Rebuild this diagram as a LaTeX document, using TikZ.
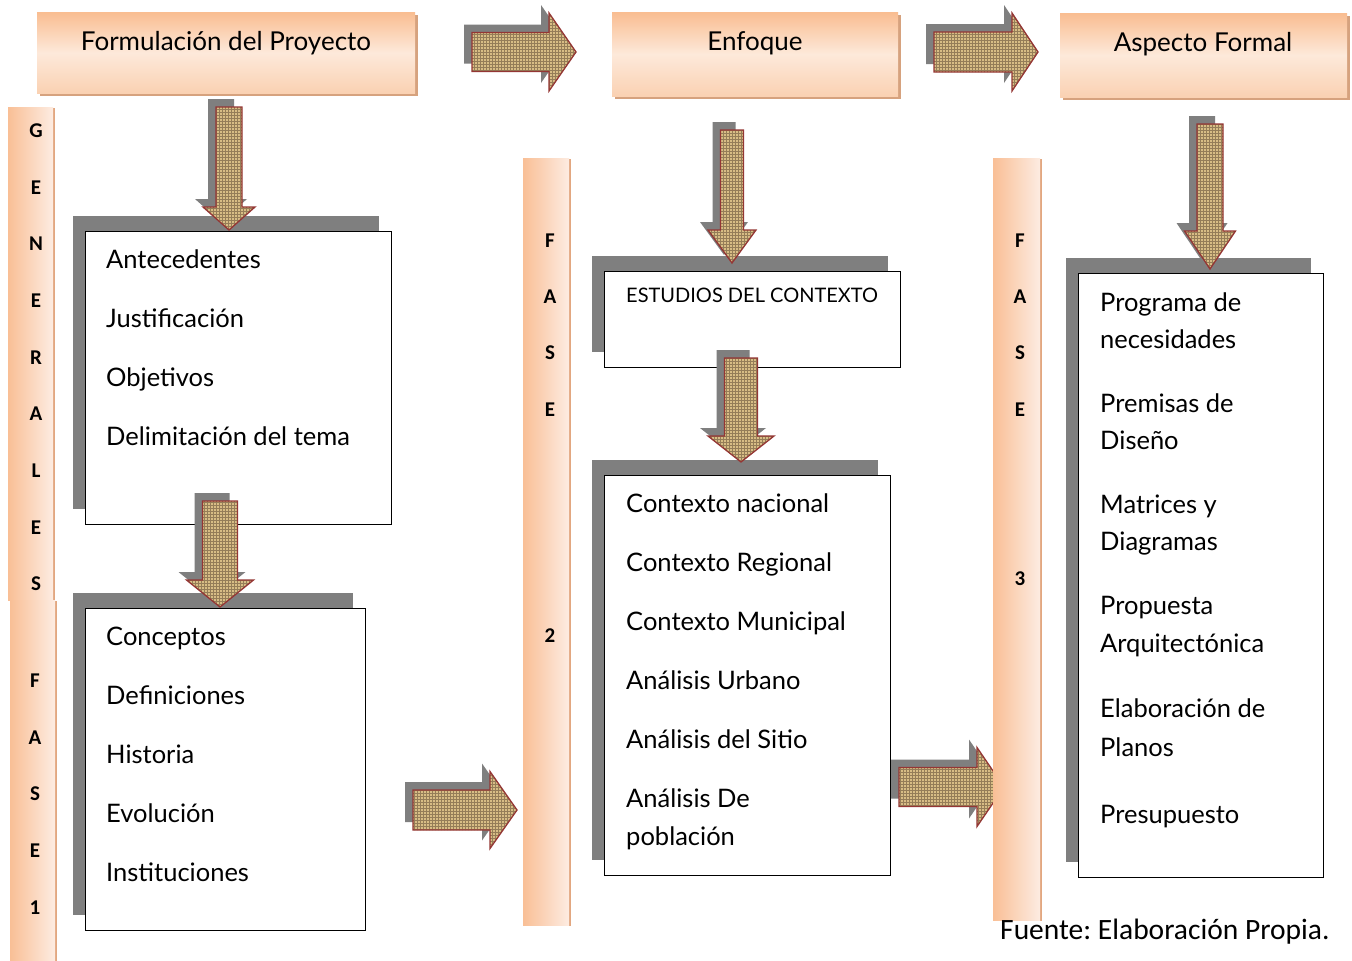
\documentclass[tikz,border=0pt]{standalone}
\usepackage{fontspec}
\setmainfont{Lato}
\newfontfamily\fuentefont{Carlito}
\usetikzlibrary{patterns}
\frenchspacing
\definecolor{hdrtop}{HTML}{F9BD91}
\definecolor{hdrmid}{HTML}{FDE9DA}
\definecolor{hdrbot}{HTML}{FAD1B2}
\definecolor{hdrshadow}{HTML}{D6A27E}
\definecolor{barleft}{HTML}{F9BF96}
\definecolor{barright}{HTML}{FDECE2}
\definecolor{barshadow}{HTML}{E2A780}
\definecolor{boxgray}{HTML}{7F7F7F}
\definecolor{burlap}{HTML}{D8BD85}
\definecolor{burlapdark}{HTML}{7A5C2E}
\definecolor{arrowred}{HTML}{943634}
\tikzset{
  hdr/.style={anchor=north west, inner sep=0, top color=hdrtop, bottom color=hdrbot, middle color=hdrmid,
    preaction={fill=hdrshadow, transform canvas={shift={(3,3)}}}},
  hdrtext/.style={anchor=base, font=\fontsize{26}{26}\selectfont},
  vbar/.style={anchor=north west, inner sep=0, left color=barleft, right color=barright,
    preaction={fill=barshadow, transform canvas={shift={(2,1)}}}},
  barletter/.style={anchor=center, font=\fuentefont\bfseries\fontsize{21}{21}\selectfont},
  listbox/.style={anchor=north west, inner sep=0, draw=black, line width=1.4pt, fill=white,
    preaction={fill=boxgray, transform canvas={shift={(-13,-16)}}}},
  item/.style={anchor=base west, inner sep=0, font=\fontsize{25.5}{25.5}\selectfont},
  texarrow/.style={preaction={fill=burlap}, pattern=grid, pattern color=burlapdark!80,
    draw=arrowred, line width=1.3pt, line join=miter},
  arrshadow/.style={fill=boxgray},
}
% down arrow: cx, top, headY, tipY, body half, head half
\newcommand\dArrow[6]{%
  \begin{scope}[shift={(-8,-8)}]
    \path[arrshadow] ({#1-#5},{#2}) -- ({#1+#5},{#2}) -- ({#1+#5},{#3}) -- ({#1+#6},{#3}) -- (#1,#4) -- ({#1-#6},{#3}) -- ({#1-#5},{#3}) -- cycle;
  \end{scope}
  \path[texarrow] ({#1-#5},{#2}) -- ({#1+#5},{#2}) -- ({#1+#5},{#3}) -- ({#1+#6},{#3}) -- (#1,#4) -- ({#1-#6},{#3}) -- ({#1-#5},{#3}) -- cycle;}
% right arrow: cy, left, headX, tipX, body half, head half
\newcommand\rArrow[6]{%
  \begin{scope}[shift={(-8,-8)}]
    \path[arrshadow] ({#2},{#1-#5}) -- ({#3},{#1-#5}) -- ({#3},{#1-#6}) -- (#4,#1) -- ({#3},{#1+#6}) -- ({#3},{#1+#5}) -- ({#2},{#1+#5}) -- cycle;
  \end{scope}
  \path[texarrow] ({#2},{#1-#5}) -- ({#3},{#1-#5}) -- ({#3},{#1-#6}) -- (#4,#1) -- ({#3},{#1+#6}) -- ({#3},{#1+#5}) -- ({#2},{#1+#5}) -- cycle;}
\begin{document}
\begin{tikzpicture}[x=1pt,y=-1pt]
\useasboundingbox[fill=white] (0,0) rectangle (1352,961);

% headers
\node[hdr, minimum width=378, minimum height=81] (h1) at (37,12) {};
\node[hdr, minimum width=286, minimum height=84] (h2) at (612,12) {};
\node[hdr, minimum width=287, minimum height=84] (h3) at (1060,13) {};
\node[hdrtext] (h1t) at (226,50) {Formulación del Proyecto};
\node[hdrtext] (h2t) at (755,50) {Enfoque};
\node[hdrtext] (h3t) at (1203,51) {Aspecto Formal};

% boxes
\node[listbox, minimum width=306, minimum height=293] (b1) at (85,231) {};
\node[listbox, minimum width=280, minimum height=322] (b2) at (85,608) {};
\node[listbox, minimum width=296, minimum height=96] (b3) at (604,271) {};
\node[listbox, minimum width=286, minimum height=400] (b4) at (604,475) {};
\node[listbox, minimum width=245, minimum height=604] (b5) at (1078,273) {};

% box texts
\node[item] (t11) at (106,268) {Antecedentes};
\node[item] (t12) at (106,327) {Justificación};
\node[item] (t13) at (106,386) {Objetivos};
\node[item] (t14) at (106,445) {Delimitación del tema};

\node[item] (t21) at (106,645) {Conceptos};
\node[item] (t22) at (106,704) {Definiciones};
\node[item] (t23) at (106,763) {Historia};
\node[item] (t24) at (106,822) {Evolución};
\node[item] (t25) at (106,881) {Instituciones};

\node[item, font=\fontsize{20}{20}\selectfont] (t31) at (626,302) {ESTUDIOS DEL CONTEXTO};

\node[item] (t41) at (626,512) {Contexto nacional};
\node[item] (t42) at (626,571) {Contexto Regional};
\node[item] (t43) at (626,630) {Contexto Municipal};
\node[item] (t44) at (626,689) {Análisis Urbano};
\node[item] (t45) at (626,748) {Análisis del Sitio};
\node[item] (t46) at (626,807) {Análisis De};
\node[item] (t47) at (626,845) {población};

\node[item] (t51) at (1100,311) {Programa de};
\node[item] (t52) at (1100,348) {necesidades};
\node[item] (t53) at (1100,412) {Premisas de};
\node[item] (t54) at (1100,449) {Diseño};
\node[item] (t55) at (1100,513) {Matrices y};
\node[item] (t56) at (1100,550) {Diagramas};
\node[item] (t57) at (1100,614) {Propuesta};
\node[item] (t58) at (1100,652) {Arquitectónica};
\node[item] (t59) at (1100,717) {Elaboración de};
\node[item] (t5a) at (1100,756) {Planos};
\node[item] (t5b) at (1100,823) {Presupuesto};

% arrows
\dArrow{229}{107}{207}{230}{13}{26}
\dArrow{732}{130}{230}{263}{11.5}{24}
\dArrow{741}{358}{436}{462}{16.5}{33}
\dArrow{220}{501}{580}{607}{17.5}{33.5}
\dArrow{1210}{124}{231}{269}{13}{25.5}
\rArrow{52}{472}{549}{576}{19.5}{39}
\rArrow{52}{934}{1012}{1038}{20}{39}
\rArrow{810}{413}{490}{517}{20}{38.5}
\rArrow{787}{899}{977}{1004}{19.5}{39.5}

% vertical bars
\node[vbar, minimum width=45, minimum height=493] (g) at (8,107) {};
\node[vbar, minimum width=45, minimum height=361] (f1) at (10,600) {};
\node[vbar, minimum width=46, minimum height=767] (f2) at (523,158) {};
\node[vbar, minimum width=47, minimum height=762] (f3) at (993,158) {};

\foreach \l/\yy [count=\i] in {G/131,E/188,N/244,E/301,R/358,A/414,L/471,E/528,S/584}
  \node[barletter] (g\i) at (36,\yy) {\l};
\foreach \l/\yy [count=\i] in {F/681,A/738,S/794,E/851,1/908}
  \node[barletter] (fa\i) at (35,\yy) {\l};
\foreach \l/\yy [count=\i] in {F/241,A/297,S/353,E/410,2/636}
  \node[barletter] (fb\i) at (550,\yy) {\l};
\foreach \l/\yy [count=\i] in {F/241,A/297,S/353,E/410,3/579}
  \node[barletter] (fc\i) at (1020,\yy) {\l};

\node[anchor=base west, inner sep=0, font=\fuentefont\fontsize{29.5}{29.5}\selectfont] (src) at (1000,939) {Fuente: Elaboración Propia.};
\end{tikzpicture}
\end{document}
